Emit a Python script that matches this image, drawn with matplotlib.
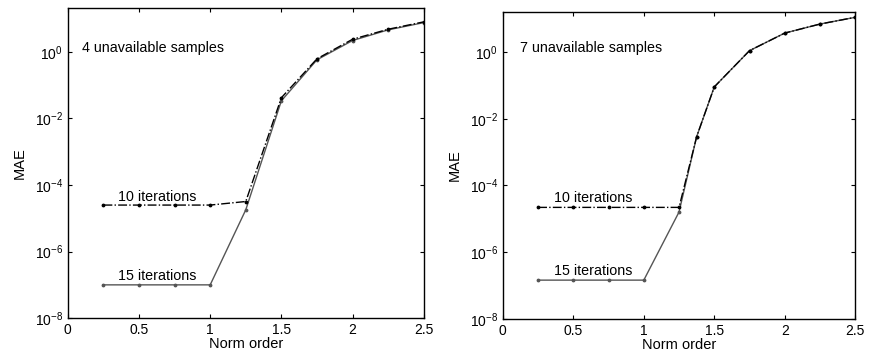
import matplotlib
matplotlib.use("Agg")
import matplotlib.pyplot as plt
import matplotlib.ticker as mticker

plt.rcParams['font.family'] = ['Liberation Sans', 'DejaVu Sans']
plt.rcParams['mathtext.fontset'] = 'custom'
plt.rcParams['mathtext.rm'] = 'Liberation Sans'
plt.rcParams['mathtext.it'] = 'Liberation Sans'

# Left panel: 4 unavailable samples
x_left = [0.25, 0.5, 0.75, 1.0, 1.25, 1.5, 1.75, 2.0, 2.25, 2.5]
mae_left_10 = [2.5e-5, 2.5e-5, 2.5e-5, 2.5e-5, 3.2e-5, 0.042, 0.62, 2.4, 4.8, 8.0]
mae_left_15 = [1.0e-7, 1.0e-7, 1.0e-7, 1.0e-7, 1.8e-5, 0.034, 0.58, 2.2, 4.6, 7.6]

# Right panel: 7 unavailable samples
x_right = [0.25, 0.5, 0.75, 1.0, 1.25, 1.375, 1.5, 1.75, 2.0, 2.25, 2.5]
mae_right_10 = [2.2e-5, 2.2e-5, 2.2e-5, 2.2e-5, 2.2e-5, 2.9e-3, 0.09, 1.1, 3.7, 6.9, 11.0]
mae_right_15 = [1.45e-7, 1.45e-7, 1.45e-7, 1.45e-7, 1.6e-5, 2.9e-3, 0.09, 1.1, 3.7, 6.9, 11.0]

titles = ["4 unavailable samples", "7 unavailable samples"]
xticks = [0, 0.5, 1, 1.5, 2, 2.5]
xticklabels = ["0", "0.5", "1", "1.5", "2", "2.5"]
yticks = [1e-8, 1e-6, 1e-4, 1e-2, 1e0]

fig = plt.figure(figsize=(8.7, 3.64), dpi=100)
ax1 = fig.add_axes([0.078, 0.126, 0.409, 0.852])
ax2 = fig.add_axes([0.578, 0.124, 0.405, 0.843])

panels = [
    (ax1, x_left, mae_left_10, mae_left_15, titles[0], 10**1.32,
     (0.10, 1.3), (0.35, 10**-4.35), (0.35, 10**-6.73)),
    (ax2, x_right, mae_right_10, mae_right_15, titles[1], 10**1.2,
     (0.12, 1.3), (0.36, 10**-4.37), (0.36, 10**-6.57)),
]

for ax, xs, y10, y15, title, ytop, tpos, p10, p15 in panels:
    ax.plot(xs, y15, color='#555555', lw=1.0, ls='-', marker='.', ms=3.5)
    ax.plot(xs, y10, color='black', lw=1.0, ls='-.', marker='.', ms=3.5)
    ax.set_yscale('log')
    ax.set_xlim(0, 2.5)
    ax.set_ylim(1e-8, ytop)
    ax.set_xticks(xticks)
    ax.set_xticklabels(xticklabels)
    ax.yaxis.set_major_locator(mticker.FixedLocator(yticks))
    ax.yaxis.set_major_formatter(mticker.LogFormatterMathtext())
    ax.yaxis.set_minor_locator(mticker.NullLocator())
    ax.tick_params(direction='in', top=True, right=True, labelsize=10, length=3, width=0.8)
    for s in ax.spines.values():
        s.set_linewidth(1.0)
    ax.set_xlabel("Norm order", fontsize=10.5, labelpad=0)
    ax.set_ylabel("MAE", fontsize=10.5, labelpad=6)
    ax.text(tpos[0], tpos[1], title, fontsize=10.3, va='center', ha='left')
    ax.text(p10[0], p10[1], "10 iterations", fontsize=10.3, va='center', ha='left')
    ax.text(p15[0], p15[1], "15 iterations", fontsize=10.3, va='center', ha='left')

fig.savefig("out.png", dpi=100)
